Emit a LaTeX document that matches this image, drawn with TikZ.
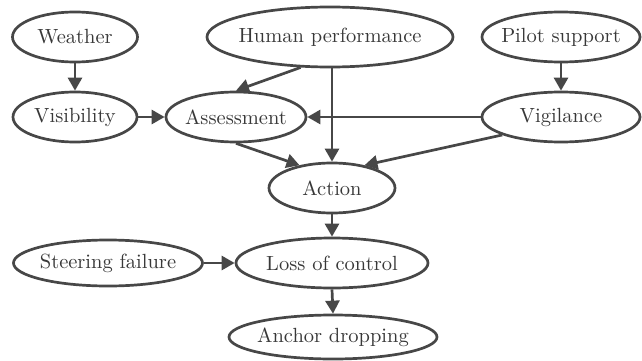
\documentclass[tikz,border=0pt]{standalone}
\usepackage{fontspec}
\setmainfont{lmroman10-regular}[Extension=.otf]
\usetikzlibrary{shapes.geometric,arrows.meta}
\definecolor{edgegray}{HTML}{474747}
\definecolor{textgray}{HTML}{383838}
% label whose width does not enlarge the ellipse around it
\newcommand{\factorlabel}[1]{\makebox[0pt]{#1}}
\tikzset{
  factor/.style={ellipse, draw=edgegray, line width=2.7pt, inner sep=0pt,
    text=textgray, font=\fontsize{20.5}{24}\selectfont},
  link/.style={draw=edgegray, line width=2.7pt,
    -{Triangle[length=13pt,width=14pt]}}
}
\begin{document}
\begin{tikzpicture}[x=1pt,y=-1pt]
\useasboundingbox (0,0) rectangle (642,361);
% causal factors
\node[factor, minimum width=125pt, minimum height=50pt] (weather) at (75,37) {\factorlabel{Weather}};
\node[factor, minimum width=124pt, minimum height=50pt] (vis) at (75,117) {\factorlabel{Visibility}};
\node[factor, minimum width=140pt, minimum height=50pt] (assess) at (236,117) {\factorlabel{Assessment}};
\node[factor, minimum width=246pt, minimum height=60pt] (hp) at (330,37) {\factorlabel{Human performance}};
\node[factor, minimum width=158pt, minimum height=50pt] (pilot) at (561,37) {\factorlabel{Pilot support}};
\node[factor, minimum width=158pt, minimum height=50pt] (vig) at (561,117) {\factorlabel{Vigilance}};
\node[factor, minimum width=126pt, minimum height=50pt] (action) at (332,188) {\factorlabel{Action}};
\node[factor, minimum width=192pt, minimum height=50pt] (loss) at (332,263) {\factorlabel{Loss of control}};
\node[factor, minimum width=189pt, minimum height=46pt] (steer) at (108,263) {\factorlabel{Steering failure}};
\node[factor, minimum width=208pt, minimum height=44pt] (anchor) at (333,337) {\factorlabel{Anchor dropping}};
% influences
\draw[link] (weather.south) -- (vis.north);
\draw[link] (vis.east) -- (assess.west);
\draw[link] (pilot.south) -- (vig.north);
\draw[link] (hp.226) -- (assess.north);
\draw[link] (hp.south -| action.north) -- (action.north);
\draw[link] (vig.west) -- (assess.east);
\draw[link] (assess.south) -- (action.145);
\draw[link] (vig.197) -- (action.35);
\draw[link] (action.south) -- (loss.north);
\draw[link] (steer.east) -- (loss.west);
\draw[link] (loss.south) -- (anchor.north);
\end{tikzpicture}
\end{document}
